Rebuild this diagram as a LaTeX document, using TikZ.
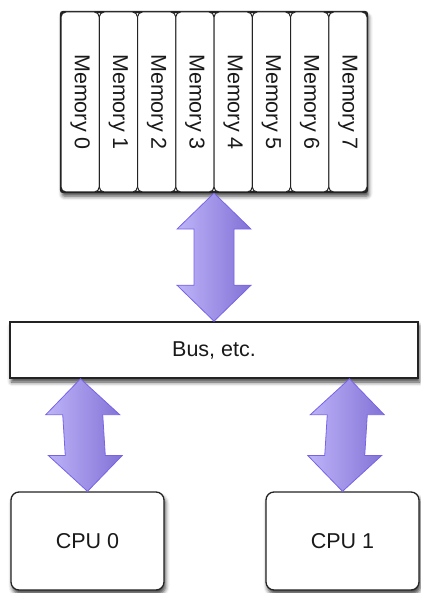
\documentclass[tikz,border=0pt]{standalone}
\usepackage{fontspec}
\setmainfont{Liberation Sans}
\usetikzlibrary{calc,shadows.blur}
\definecolor{arrL}{RGB}{190,180,248}
\definecolor{arrR}{RGB}{130,114,214}
\definecolor{arrB}{RGB}{118,100,232}
\definecolor{edge}{RGB}{35,35,35}
\tikzset{
  shad/.style={blur shadow={shadow xshift=1.5pt,shadow yshift=-4pt,shadow blur radius=4pt,shadow opacity=75}},
  lbl/.style={font=\fontsize{21.5}{24}\selectfont,text=black!90},
  memframe/.style={draw=edge,line width=2.2pt,fill=white,rounded corners=2pt,minimum width=306pt,minimum height=180pt,inner sep=0pt,shad},
  memcell/.style={draw=edge,line width=1pt,fill=white,rounded corners=5pt,minimum width=180pt,minimum height=38.25pt,inner sep=0pt,rotate=-90,lbl},
  busbox/.style={draw=edge,line width=1.6pt,fill=white,minimum width=408pt,minimum height=56pt,inner sep=0pt,shad,lbl},
  cpubox/.style={draw=edge,line width=1.3pt,fill=white,rounded corners=8pt,minimum width=153pt,minimum height=98pt,inner sep=0pt,shad,lbl},
  twowaystyle/.style={draw=arrB,line width=0.8pt,left color=arrL,right color=arrR,line join=miter}
}
\newcommand\twoway[2]{%
  \path[twowaystyle] (#1)
    -- ($(#1)!36pt!(#2)+(37,0)$) -- ($(#1)!36pt!(#2)+(20,0)$)
    -- ($(#2)!36pt!(#1)+(20,0)$) -- ($(#2)!36pt!(#1)+(37,0)$)
    -- (#2)
    -- ($(#2)!36pt!(#1)+(-37,0)$) -- ($(#2)!36pt!(#1)+(-20,0)$)
    -- ($(#1)!36pt!(#2)+(-20,0)$) -- ($(#1)!36pt!(#2)+(-37,0)$)
    -- cycle;}
\begin{document}
\begin{tikzpicture}[x=1pt,y=-1pt]
\useasboundingbox (0,0) rectangle (420,593);
% memory bank
\node[memframe] (mem) at (214,102) {};
\foreach \i in {0,...,7}{
  \node[memcell] (m\i) at ({61+38.25*(\i+0.5)},102) {Memory \i};
}
% bus
\node[busbox] (bus) at (214,350) {Bus, etc.};
% cpus
\node[cpubox] (cpu0) at (87.5,541) {CPU 0};
\node[cpubox] (cpu1) at (342.5,541) {CPU 1};
% connectors
\coordinate (b0) at ($(bus.south -| cpu0.north)+(-7,0)$);
\coordinate (b1) at ($(bus.south -| cpu1.north)+(7,0)$);
\twoway{mem.south}{bus.north}
\twoway{b0}{cpu0.north}
\twoway{b1}{cpu1.north}
\end{tikzpicture}
\end{document}
